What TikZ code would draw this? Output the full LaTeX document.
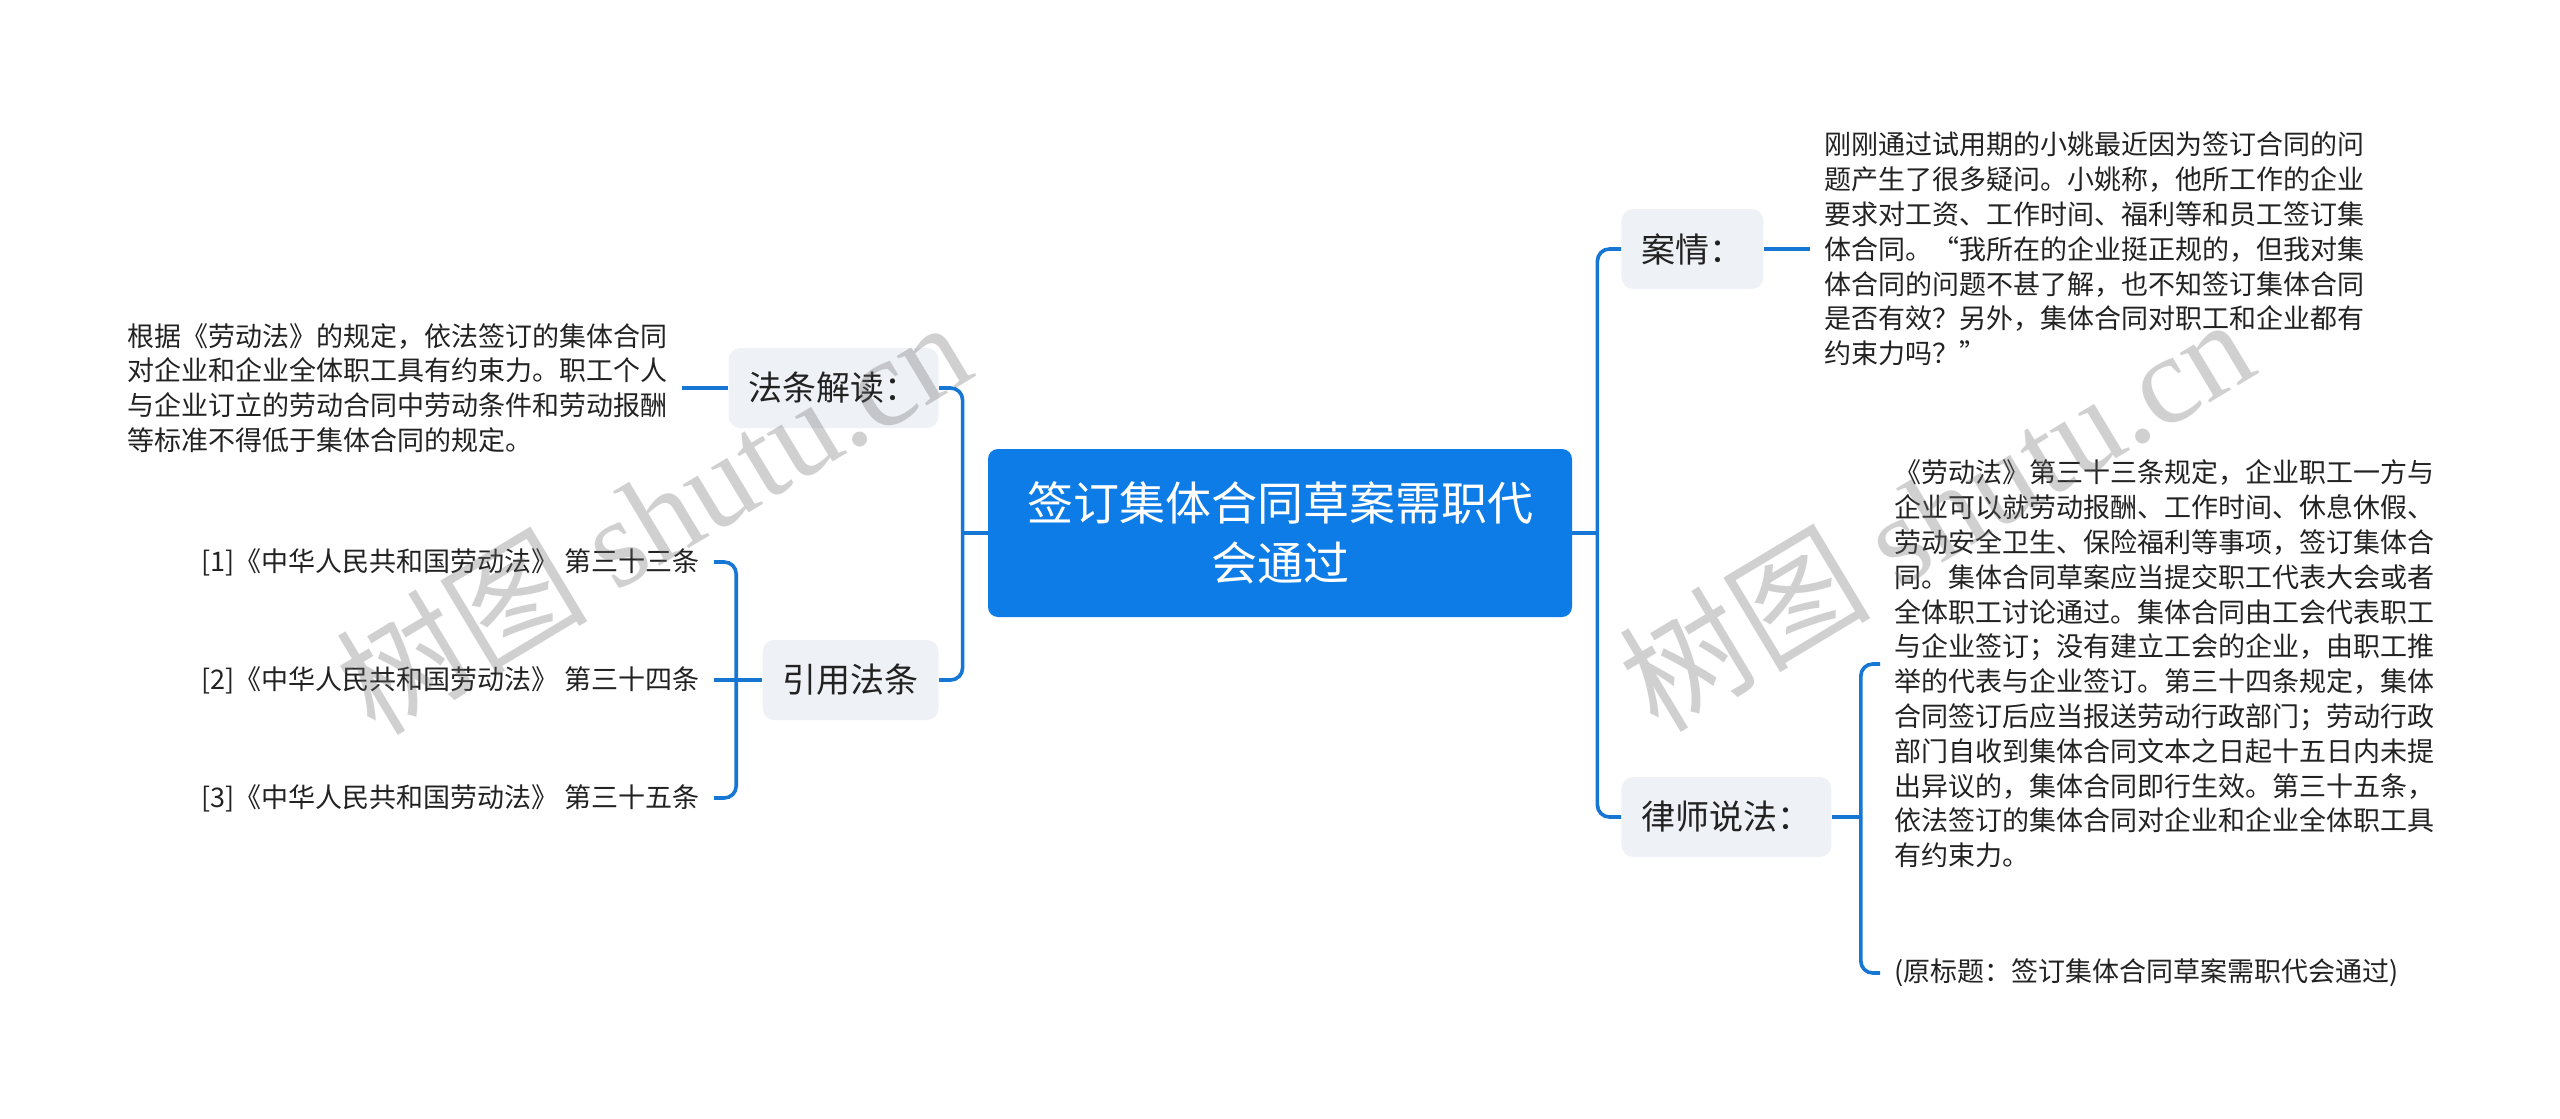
\documentclass[tikz,border=0pt]{standalone}
\usepackage{fontspec}
\setmainfont{Noto Sans CJK SC}
\newfontfamily\markfont{Liberation Serif}
\usetikzlibrary{calc}
\definecolor{mapblue}{RGB}{14,124,230}
\definecolor{linkblue}{RGB}{22,118,212}
\definecolor{topicbg}{RGB}{238,241,245}
\definecolor{inkgray}{RGB}{34,34,34}
\definecolor{markgray}{RGB}{110,110,110}

\begin{document}
\begin{tikzpicture}[x=0.5pt, y=-0.5pt,
  rootbox/.style={fill=mapblue, rounded corners=5pt, text=white, font=\fontsize{23}{30}\selectfont,
    align=center, minimum width=292pt, minimum height=84pt, inner sep=0pt},
  topic/.style={fill=topicbg, rounded corners=6pt, text=inkgray, font=\fontsize{17}{20}\selectfont,
    minimum height=40pt, inner xsep=10pt, inner ysep=0pt},
  leaf/.style={text=inkgray, font=\fontsize{13.5}{17.4}\selectfont, align=left, inner xsep=7pt, inner ysep=2pt},
  wmark/.style={text=markgray, text opacity=0.32, font=\fontsize{63}{66}\selectfont, rotate=31},
  link/.style={draw=linkblue, line width=1.8pt, rounded corners=6pt}]
  \fill[white] (0,0) rectangle (2560,1119);
  \useasboundingbox (0,0) rectangle (2560,1119);

  % Root
  \node[rootbox] (root) at (1280,533) {签订集体合同草案需职代\\会通过};

  % Left topics
  \node[topic, anchor=east] (fatiao) at (939,388) {法条解读：};
  \node[topic, anchor=east] (yinyong) at (939,680) {引用法条};

  % Right topics
  \node[topic, anchor=west] (anqing) at (1621,249) {案情：};
  \node[topic, anchor=west] (lvshi) at (1621,817) {律师说法：};

  % Leaves
  \node[leaf, anchor=east] (fatiaotext) at (682,388) {根据《劳动法》的规定，依法签订的集体合同\\
    对企业和企业全体职工具有约束力。职工个人\\
    与企业订立的劳动合同中劳动条件和劳动报酬\\
    等标准不得低于集体合同的规定。};
  \node[leaf, anchor=east] (ref1) at (714,562) {[1]《中华人民共和国劳动法》 第三十三条};
  \node[leaf, anchor=east] (ref2) at (714,680) {[2]《中华人民共和国劳动法》 第三十四条};
  \node[leaf, anchor=east] (ref3) at (714,798) {[3]《中华人民共和国劳动法》 第三十五条};
  \node[leaf, anchor=west] (anqingtext) at (1810,249) {刚刚通过试用期的小姚最近因为签订合同的问\\
    题产生了很多疑问。小姚称，他所工作的企业\\
    要求对工资、工作时间、福利等和员工签订集\\
    体合同。“我所在的企业挺正规的，但我对集\\
    体合同的问题不甚了解，也不知签订集体合同\\
    是否有效？另外，集体合同对职工和企业都有\\
    约束力吗？”};
  \node[leaf, anchor=west] (lvshitext) at (1880,664) {《劳动法》第三十三条规定，企业职工一方与\\
    企业可以就劳动报酬、工作时间、休息休假、\\
    劳动安全卫生、保险福利等事项，签订集体合\\
    同。集体合同草案应当提交职工代表大会或者\\
    全体职工讨论通过。集体合同由工会代表职工\\
    与企业签订；没有建立工会的企业，由职工推\\
    举的代表与企业签订。第三十四条规定，集体\\
    合同签订后应当报送劳动行政部门；劳动行政\\
    部门自收到集体合同文本之日起十五日内未提\\
    出异议的，集体合同即行生效。第三十五条，\\
    依法签订的集体合同对企业和企业全体职工具\\
    有约束力。};
  \node[leaf, anchor=west] (yuanbiaoti) at (1880,973) {(原标题：签订集体合同草案需职代会通过)};

  % Connectors
  \draw[link] (root.west) -- ++(-25,0) coordinate (lspine);
  \draw[link] (lspine) |- (fatiao.east);
  \draw[link] (lspine) |- (yinyong.east);
  \draw[link] (root.east) -- ++(25,0) coordinate (rspine);
  \draw[link] (rspine) |- (anqing.west);
  \draw[link] (rspine) |- (lvshi.west);
  \draw[link] (fatiao.west) -- (fatiaotext.east);
  \draw[link] (anqing.east) -- (anqingtext.west);
  \draw[link] (yinyong.west) -- ++(-26,0) coordinate (yyspine);
  \draw[link] (yyspine) |- (ref1.east);
  \draw[link] (yyspine) -- (ref2.east);
  \draw[link] (yyspine) |- (ref3.east);
  \draw[link] (lvshi.east) -- ++(29,0) coordinate (lvspine);
  \draw[link] (lvspine) |- (lvshitext.west);
  \draw[link] (lvspine) |- (yuanbiaoti.west);

  % Watermarks on top
  \node[wmark] (wmleft) at (652,515) {树图 {\markfont shutu.cn}};
  \node[wmark] (wmright) at (1935,512) {树图 {\markfont shutu.cn}};
\end{tikzpicture}
\end{document}
